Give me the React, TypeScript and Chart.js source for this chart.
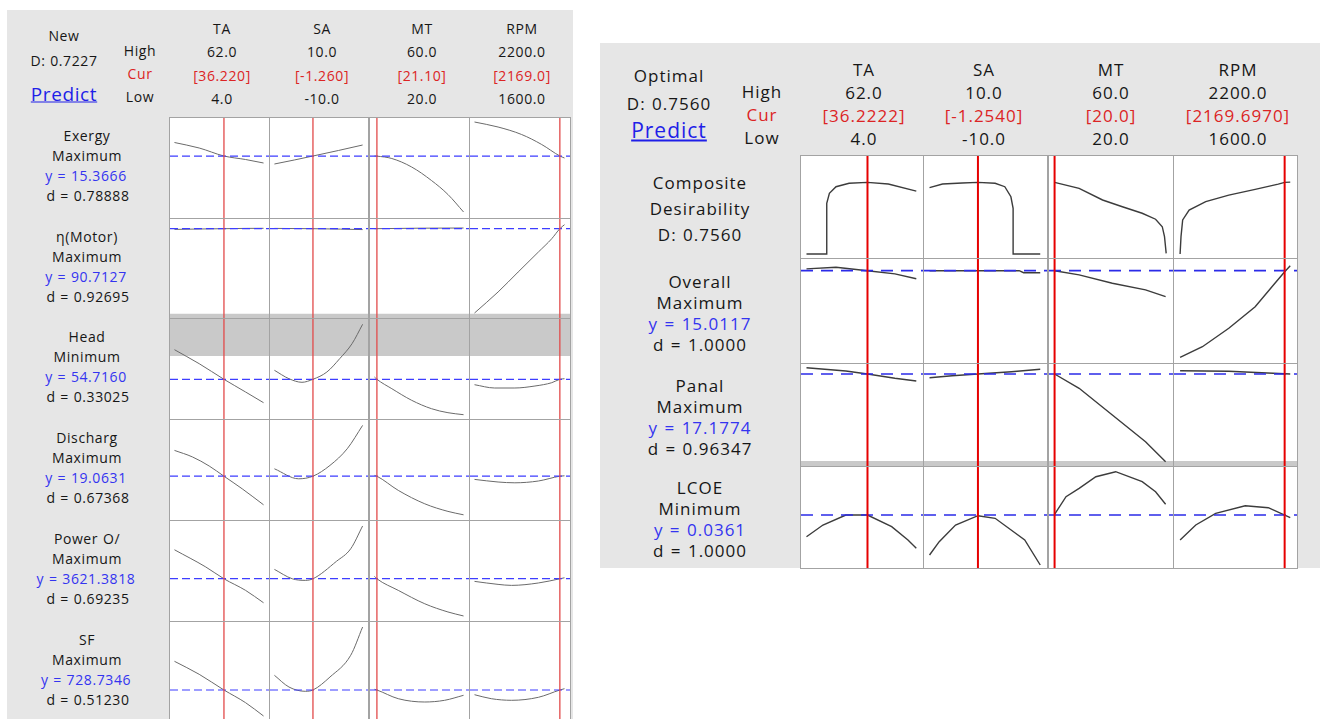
import React, { useEffect, useRef } from 'react';
import { Chart, registerables } from 'chart.js';

Chart.register(...registerables);

type Pt = [number, number];

// ---------- factors ----------
const FACTORS = ['TA', 'SA', 'MT', 'RPM'];
const FACTOR_LOW = [4, -10, 20, 1600];
const FACTOR_HIGH = [62, 10, 60, 2200];
const HIGH_TEXT = ['62.0', '10.0', '60.0', '2200.0'];
const LOW_TEXT = ['4.0', '-10.0', '20.0', '1600.0'];

// ---------- "New" panel (left) ----------
const NEW_TITLE = 'New';
const NEW_D_TOTAL = 'D: 0.7227';
const NEW_CUR = [36.22, -1.26, 21.1, 2169.0];
const NEW_CUR_TEXT = ['[36.220]', '[-1.260]', '[21.10]', '[2169.0]'];
const NEW_RESPONSES = ['Exergy', 'η(Motor)', 'Head', 'Discharg', 'Power O/', 'SF'];
const NEW_GOALS = ['Maximum', 'Maximum', 'Minimum', 'Maximum', 'Maximum', 'Maximum'];
const NEW_Y = [15.3666, 90.7127, 54.716, 19.0631, 3621.3818, 728.7346];
const NEW_Y_TEXT = ['15.3666', '90.7127', '54.7160', '19.0631', '3621.3818', '728.7346'];
const NEW_D_TEXT = ['0.78888', '0.92695', '0.33025', '0.67368', '0.69235', '0.51230'];
const NEW_Y_RANGE: Pt[] = [[14.13, 16.13], [81.78, 91.68], [50.75, 60.75], [16.87, 21.87], [3409.9, 3909.9], [664.7, 864.7]];
const NEW_BANDS: (Pt | null)[] = [null, [81.78, 82.21], [57.05, 60.75], null, null, null];

const exergyCurves: Pt[][] = [
  [[4, 15.64], [20.1, 15.53], [36.22, 15.37], [50.3, 15.3], [62, 15.23]],
  [[-10, 15.21], [-5.5, 15.29], [-1.26, 15.37], [4.5, 15.48], [10, 15.59]],
  [[20, 15.37], [21.1, 15.367], [27.8, 15.32], [36.7, 15.15], [45.6, 14.88], [53, 14.6], [60, 14.25]],
  [[1600, 16.05], [1757, 15.95], [1914, 15.8], [2048, 15.6], [2169, 15.37], [2200, 15.33]],
];
const motorCurves: Pt[][] = [
  [[4, 90.64], [20, 90.68], [36.22, 90.71], [50, 90.74], [62, 90.75]],
  [[-10, 90.74], [-1.26, 90.71], [5, 90.67], [10, 90.62]],
  [[20, 90.71], [40, 90.76], [60, 90.78]],
  [[1600, 82.28], [1757, 84.38], [1891, 86.38], [2026, 88.38], [2115, 89.71], [2169, 90.71], [2200, 91.11]],
];
const headCurves: Pt[][] = [
  [[4, 57.68], [20.1, 56.28], [36.22, 54.72], [50.3, 53.45], [62, 52.38]],
  [[-10, 55.62], [-6.7, 54.78], [-3.75, 54.42], [-1.26, 54.72], [1.9, 55.45], [4.8, 56.78], [7.6, 58.28], [10, 60.22]],
  [[20, 54.95], [21.1, 54.72], [27.8, 53.78], [36.7, 52.62], [45.6, 51.78], [53, 51.38], [60, 51.18]],
  [[1600, 54.18], [1734, 53.85], [1869, 53.85], [2003, 54.05], [2115, 54.38], [2169, 54.72], [2200, 54.78]],
];
const dischargCurves: Pt[][] = [
  [[4, 20.35], [15.8, 20.02], [26.6, 19.57], [36.22, 19.06], [48.1, 18.43], [62, 17.63]],
  [[-10, 19.43], [-4.5, 18.93], [-1.26, 19.06], [2.6, 19.6], [6.5, 20.43], [10, 21.6]],
  [[20, 19.1], [21.1, 19.06], [30.7, 18.35], [42.6, 17.68], [53, 17.3], [60, 17.13]],
  [[1600, 18.9], [1757, 18.77], [1869, 18.73], [2026, 18.82], [2169, 19.06], [2200, 19.08]],
];
const powerCurves: Pt[][] = [
  [[4, 3766], [24.4, 3680], [36.22, 3621], [50.3, 3563], [62, 3501]],
  [[-10, 3668], [-5.95, 3621], [-3.0, 3613], [-1.26, 3621], [4.05, 3708], [7.3, 3771], [10, 3885]],
  [[20, 3633], [21.1, 3621], [30.7, 3563], [42.6, 3496], [53, 3455], [60, 3435]],
  [[1600, 3608], [1757, 3593], [1847, 3588], [2026, 3600], [2169, 3621], [2200, 3626]],
];
const sfCurves: Pt[][] = [
  [[4, 786.1], [20.1, 760.1], [36.22, 728.7], [50.3, 703.3], [62, 676.7]],
  [[-10, 758.1], [-6.7, 734.7], [-3.0, 726.1], [-1.26, 728.7], [2.6, 754.7], [7.3, 798.1], [10, 854.7]],
  [[20, 730.1], [21.1, 728.7], [30.7, 711.3], [42.6, 704.7], [51.5, 708.1], [60, 718.1]],
  [[1600, 719.3], [1712, 711.3], [1847, 708.1], [2026, 714.1], [2169, 728.7], [2200, 731.3]],
];
const NEW_CURVES = [exergyCurves, motorCurves, headCurves, dischargCurves, powerCurves, sfCurves];

// ---------- "Optimal" panel (right) ----------
const OPT_TITLE = 'Optimal';
const OPT_D_TOTAL = 'D: 0.7560';
const OPT_CUR = [36.2222, -1.254, 20.0, 2169.697];
const OPT_CUR_TEXT = ['[36.2222]', '[-1.2540]', '[20.0]', '[2169.6970]'];
const OPT_LABELS: string[][] = [
  ['Composite', 'Desirability', 'D: 0.7560'],
  ['Overall', 'Maximum', 'y = 15.0117', 'd = 1.0000'],
  ['Panal', 'Maximum', 'y = 17.1774', 'd = 0.96347'],
  ['LCOE', 'Minimum', 'y = 0.0361', 'd = 1.0000'],
];
const OPT_Y: (number | null)[] = [null, 15.0117, 17.1774, 0.0361];
const OPT_Y_RANGE: Pt[] = [[-0.042, 1.034], [10.395, 15.595], [7.98, 18.18], [0.0308, 0.0409]];
const OPT_BANDS: (Pt | null)[] = [null, null, [7.98, 8.48], null];

const compositeCurves: Pt[][] = [
  [[4, 0], [14.7, 0], [14.7, 0.535], [16.1, 0.64], [19.6, 0.71], [26.5, 0.746], [36.22, 0.756], [47.2, 0.738], [62, 0.664]],
  [[-10, 0.7], [-7.65, 0.738], [-4.1, 0.749], [-1.25, 0.756], [1.85, 0.746], [3.6, 0.71], [4.7, 0.604], [5.1, 0.482], [5.1, 0], [10, 0]],
  [[20, 0.756], [28.8, 0.693], [37.2, 0.57], [44.3, 0.499], [51.4, 0.43], [56.2, 0.367], [58.6, 0.288], [59.4, 0.183], [60, 0.007]],
  [[1603, 0], [1608, 0.183], [1617, 0.359], [1652, 0.464], [1742, 0.552], [1867, 0.622], [2010, 0.682], [2135, 0.738], [2169.7, 0.756], [2200, 0.758]],
];
const overallCurves: Pt[][] = [
  [[4, 15.1], [19.6, 15.18], [36.22, 15.01], [50.7, 14.85], [62, 14.61]],
  [[-10, 15.01], [6.2, 15.01], [7.0, 14.91], [10, 14.91]],
  [[20, 15.01], [28.8, 14.8], [40.7, 14.38], [52.6, 14.05], [59.8, 13.71]],
  [[1603, 10.68], [1724, 11.21], [1867, 12.13], [2010, 13.21], [2117, 14.38], [2170, 14.96], [2200, 15.26]],
];
const panalCurves: Pt[][] = [
  [[4, 17.81], [24.8, 17.48], [36.22, 17.18], [50.7, 16.75], [62, 16.48]],
  [[-10, 16.81], [-5.9, 17.01], [-1.25, 17.18], [4.8, 17.41], [10, 17.65]],
  [[20, 17.18], [28.8, 15.75], [40.7, 13.08], [52.6, 10.41], [59.8, 8.41]],
  [[1603, 17.51], [1867, 17.45], [2046, 17.31], [2200, 17.18]],
];
const lcoeCurves: Pt[][] = [
  [[4, 0.03393], [12.7, 0.0351], [24.8, 0.0361], [36.22, 0.0361], [49, 0.03493], [57.6, 0.0336], [62, 0.03277]],
  [[-10, 0.0321], [-8.25, 0.03343], [-5.3, 0.0351], [-1.25, 0.03603], [1.85, 0.03577], [7.2, 0.0336], [10, 0.0311]],
  [[20, 0.03617], [24.1, 0.03793], [28.8, 0.03877], [34.8, 0.03993], [41.9, 0.04043], [51.4, 0.03943], [56.2, 0.03843], [59.8, 0.03717]],
  [[1603, 0.0336], [1688, 0.0351], [1796, 0.03627], [1956, 0.03703], [2081, 0.03683], [2200, 0.03583]],
];
const OPT_CURVES = [compositeCurves, overallCurves, panalCurves, lcoeCurves];

// ---------- styling / layout ----------
const FONT = "'Segoe UI', 'Open Sans', 'Noto Sans', sans-serif";
const PAD_L = 0.045;
const PAD_R = 0.055;
const LFS = 14;
const RFS = 17;
const L_SP = { ls: 0.6, ws: 0.5 };
const R_SP = { ls: 1, ws: 1 };

interface Theme {
  red: string; redW: number; blue: string; blueW: number; dash: number[];
  curve: string; curveW: number; smooth: boolean;
}
const LEFT_THEME: Theme = { red: '#e24a4a', redW: 1.3, blue: '#3d3dff', blueW: 1.2, dash: [8, 4], curve: '#6a6a6a', curveW: 1, smooth: true };
const RIGHT_THEME: Theme = { red: '#e60000', redW: 2, blue: '#2b2be8', blueW: 1.6, dash: [12, 8], curve: '#3c3c3c', curveW: 1.4, smooth: false };

interface CellProps {
  left: number; top: number; width: number; height: number;
  pts: Pt[]; xLo: number; xHi: number; cur: number;
  yRange: Pt; target: number | null; band: Pt | null; theme: Theme;
}

function Cell(p: CellProps) {
  const ref = useRef<HTMLCanvasElement>(null);
  useEffect(() => {
    const t = p.theme;
    const span = p.xHi - p.xLo;
    const inner = 1 - PAD_L - PAD_R;
    const xmin = p.xLo - (span * PAD_L) / inner;
    const xmax = p.xHi + (span * PAD_R) / inner;
    const [yMin, yMax] = p.yRange;
    const ds: any[] = [];
    ds.push({
      data: [{ x: p.cur, y: yMin }, { x: p.cur, y: yMax }],
      borderColor: t.red, borderWidth: t.redW, pointRadius: 0, order: 0,
    });
    if (p.target !== null) {
      ds.push({
        data: [{ x: xmin, y: p.target }, { x: xmax, y: p.target }],
        borderColor: t.blue, borderWidth: t.blueW, borderDash: t.dash, pointRadius: 0, order: 1,
      });
    }
    ds.push({
      data: p.pts.map(([x, y]) => ({ x, y })),
      borderColor: t.curve, borderWidth: t.curveW, pointRadius: 0,
      cubicInterpolationMode: t.smooth ? 'monotone' : 'default', tension: 0, order: 2,
    });
    if (p.band) {
      ds.push({
        data: [{ x: xmin, y: p.band[0] }, { x: xmax, y: p.band[0] }],
        borderWidth: 0, pointRadius: 0, backgroundColor: '#c9c9c9',
        fill: { value: p.band[1] }, order: 3,
      });
    }
    const chart = new Chart(ref.current as HTMLCanvasElement, {
      type: 'line',
      data: { datasets: ds },
      options: {
        responsive: false,
        maintainAspectRatio: false,
        animation: false,
        events: [],
        layout: { padding: 0 },
        plugins: { legend: { display: false }, tooltip: { enabled: false } },
        scales: {
          x: { type: 'linear', min: xmin, max: xmax, display: false },
          y: { type: 'linear', min: yMin, max: yMax, display: false },
        },
      },
    } as any);
    return () => chart.destroy();
  }, []);
  return (
    <canvas
      ref={ref}
      width={p.width}
      height={p.height}
      style={{ position: 'absolute', left: p.left, top: p.top, width: p.width, height: p.height, background: '#fff' }}
    />
  );
}

function Txt(props: { x: number; y: number; s: string; size: number; sp: { ls: number; ws: number }; color?: string; u?: boolean }) {
  return (
    <div
      style={{
        position: 'absolute', left: props.x, top: props.y, transform: 'translate(-50%, -50%)',
        fontSize: props.size, color: props.color || '#161616', whiteSpace: 'nowrap', lineHeight: 1,
        letterSpacing: props.sp.ls, wordSpacing: props.sp.ws,
        textDecoration: props.u ? 'underline' : 'none',
      }}
    >
      {props.s}
    </div>
  );
}

const BLUE_TEXT = '#3434f0';
const RED_TEXT = '#dc2424';
const LINK = '#1f1fe8';

export default function App() {
  // left panel geometry
  const lColLeft = [170, 270, 370, 470];
  const lColW = [99, 98, 99, 100];
  const lRowTop = [118, 219, 319, 420, 521, 622];
  const lRowH = [100, 99, 100, 100, 100, 100];
  const lHeadX = [222, 322, 422, 522];
  // right panel geometry
  const rColLeft = [801, 924, 1049, 1174];
  const rColW = [122, 123, 124, 123];
  const rRowTop = [156, 259, 364, 467];
  const rRowH = [102, 104, 102, 101];
  const rHeadX = [864, 984, 1111, 1238];

  const items: React.ReactNode[] = [];

  // ----- left panel -----
  items.push(<div key="lbg" style={{ position: 'absolute', left: 7, top: 10, width: 566, height: 712, background: '#e6e6e6' }} />);
  items.push(<div key="lgrid" style={{ position: 'absolute', left: 169, top: 117, width: 402, height: 606, background: '#a3a3a3' }} />);
  items.push(<Txt key="lt1" x={64} y={36} s={NEW_TITLE} size={LFS} sp={L_SP} />);
  items.push(<Txt key="lt2" x={64} y={61} s={NEW_D_TOTAL} size={LFS} sp={L_SP} />);
  items.push(<Txt key="lt3" x={64} y={94} s="Predict" size={19} sp={L_SP} color={LINK} u />);
  items.push(<Txt key="lh1" x={140} y={51} s="High" size={LFS} sp={L_SP} />);
  items.push(<Txt key="lh2" x={140} y={74} s="Cur" size={LFS} sp={L_SP} color={RED_TEXT} />);
  items.push(<Txt key="lh3" x={140} y={97} s="Low" size={LFS} sp={L_SP} />);
  FACTORS.forEach((f, j) => {
    items.push(<Txt key={'lf' + j} x={lHeadX[j]} y={29} s={f} size={LFS} sp={L_SP} />);
    items.push(<Txt key={'lhi' + j} x={lHeadX[j]} y={52} s={HIGH_TEXT[j]} size={LFS} sp={L_SP} />);
    items.push(<Txt key={'lcu' + j} x={lHeadX[j]} y={76} s={NEW_CUR_TEXT[j]} size={LFS} sp={L_SP} color={RED_TEXT} />);
    items.push(<Txt key={'llo' + j} x={lHeadX[j]} y={99} s={LOW_TEXT[j]} size={LFS} sp={L_SP} />);
  });
  NEW_RESPONSES.forEach((name, i) => {
    const c = lRowTop[i] + lRowH[i] / 2 - 2;
    items.push(<Txt key={'ln' + i} x={87} y={c - 30} s={name} size={LFS} sp={L_SP} />);
    items.push(<Txt key={'lg' + i} x={87} y={c - 10} s={NEW_GOALS[i]} size={LFS} sp={L_SP} />);
    items.push(<Txt key={'ly' + i} x={86} y={c + 10} s={'y = ' + NEW_Y_TEXT[i]} size={LFS} sp={L_SP} color={BLUE_TEXT} />);
    items.push(<Txt key={'ld' + i} x={88} y={c + 30} s={'d = ' + NEW_D_TEXT[i]} size={LFS} sp={L_SP} />);
    FACTORS.forEach((_, j) => {
      items.push(
        <Cell
          key={`lc${i}_${j}`}
          left={lColLeft[j]} top={lRowTop[i]} width={lColW[j]} height={lRowH[i]}
          pts={NEW_CURVES[i][j]} xLo={FACTOR_LOW[j]} xHi={FACTOR_HIGH[j]} cur={NEW_CUR[j]}
          yRange={NEW_Y_RANGE[i]} target={NEW_Y[i]} band={NEW_BANDS[i]} theme={LEFT_THEME}
        />
      );
    });
  });

  // ----- right panel -----
  items.push(<div key="rbg" style={{ position: 'absolute', left: 600, top: 43, width: 720, height: 525, background: '#e6e6e6' }} />);
  items.push(<div key="rgrid" style={{ position: 'absolute', left: 800, top: 155, width: 498, height: 414, background: '#a3a3a3' }} />);
  items.push(<Txt key="rt1" x={669} y={75} s={OPT_TITLE} size={RFS} sp={R_SP} />);
  items.push(<Txt key="rt2" x={669} y={103} s={OPT_D_TOTAL} size={RFS} sp={R_SP} />);
  items.push(<Txt key="rt3" x={669} y={130} s="Predict" size={21} sp={R_SP} color={LINK} u />);
  items.push(<Txt key="rh1" x={762} y={91} s="High" size={RFS} sp={R_SP} />);
  items.push(<Txt key="rh2" x={762} y={114} s="Cur" size={RFS} sp={R_SP} color={RED_TEXT} />);
  items.push(<Txt key="rh3" x={762} y={137} s="Low" size={RFS} sp={R_SP} />);
  FACTORS.forEach((f, j) => {
    items.push(<Txt key={'rf' + j} x={rHeadX[j]} y={69} s={f} size={RFS} sp={R_SP} />);
    items.push(<Txt key={'rhi' + j} x={rHeadX[j]} y={92} s={HIGH_TEXT[j]} size={RFS} sp={R_SP} />);
    items.push(<Txt key={'rcu' + j} x={rHeadX[j]} y={115} s={OPT_CUR_TEXT[j]} size={RFS} sp={R_SP} color={RED_TEXT} />);
    items.push(<Txt key={'rlo' + j} x={rHeadX[j]} y={138} s={LOW_TEXT[j]} size={RFS} sp={R_SP} />);
  });
  OPT_LABELS.forEach((lines, i) => {
    const c = rRowTop[i] + rRowH[i] / 2 + 1;
    const step = lines.length === 3 ? 26 : 21;
    const start = c - (step * (lines.length - 1)) / 2;
    lines.forEach((s, k) => {
      const isY = s.startsWith('y =');
      items.push(<Txt key={`rl${i}_${k}`} x={700} y={start + k * step} s={s} size={RFS} sp={R_SP} color={isY ? BLUE_TEXT : undefined} />);
    });
    FACTORS.forEach((_, j) => {
      items.push(
        <Cell
          key={`rc${i}_${j}`}
          left={rColLeft[j]} top={rRowTop[i]} width={rColW[j]} height={rRowH[i]}
          pts={OPT_CURVES[i][j]} xLo={FACTOR_LOW[j]} xHi={FACTOR_HIGH[j]} cur={OPT_CUR[j]}
          yRange={OPT_Y_RANGE[i]} target={OPT_Y[i]} band={OPT_BANDS[i]} theme={RIGHT_THEME}
        />
      );
    });
  });

  return (
    <div style={{ position: 'absolute', left: 0, top: 0, width: 1320, height: 719, overflow: 'hidden', background: '#fff', fontFamily: FONT }}>
      {items}
    </div>
  );
}
